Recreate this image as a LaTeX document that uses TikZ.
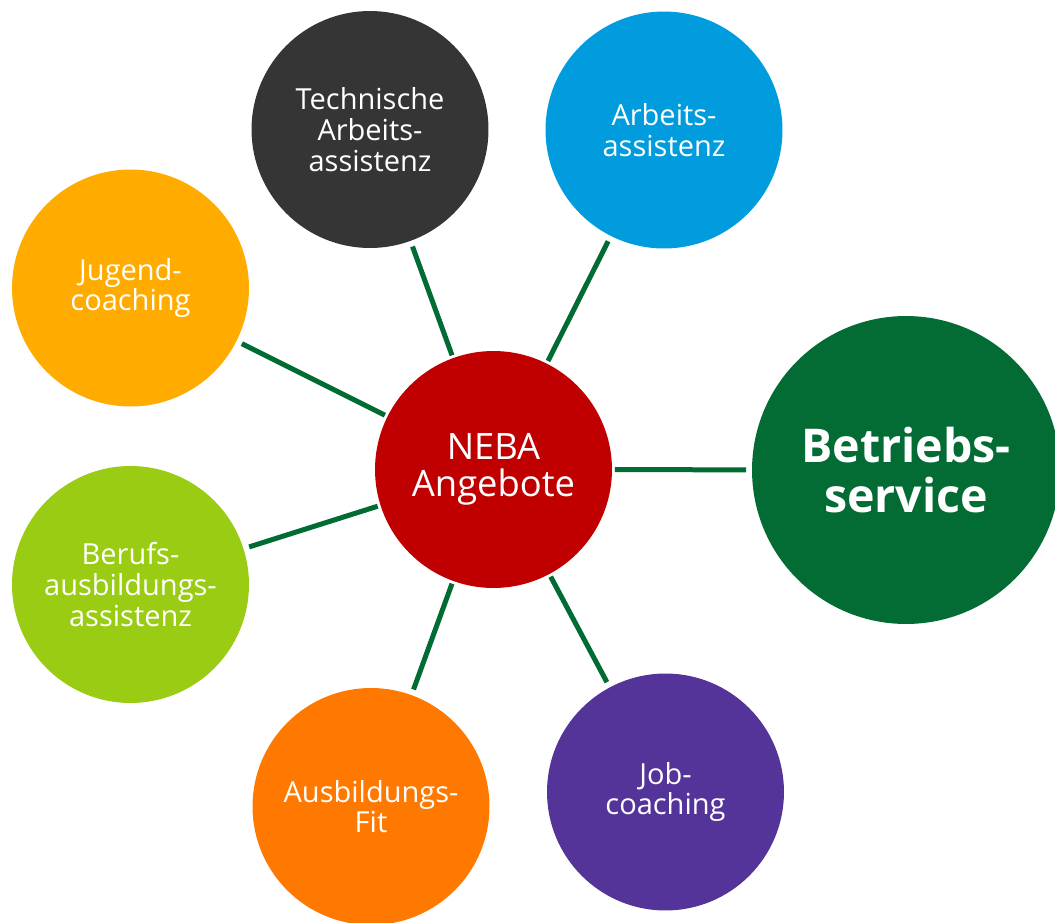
\documentclass[tikz,border=0pt]{standalone}
\usepackage{fontspec}
\setmainfont{Open Sans}
\usepackage{tikz}
\definecolor{nebared}{RGB}{192,0,0}
\definecolor{techgray}{RGB}{53,53,53}
\definecolor{arbblue}{RGB}{0,156,222}
\definecolor{jugamber}{RGB}{255,171,0}
\definecolor{betrgreen}{RGB}{3,107,52}
\definecolor{beruflime}{RGB}{153,204,18}
\definecolor{fitorange}{RGB}{255,120,0}
\definecolor{jobpurple}{RGB}{85,52,153}
\definecolor{linkgreen}{RGB}{0,107,51}

\begin{document}
\begin{tikzpicture}
		[x=0.02cm,y=-0.02cm,every node/.style={circle,inner sep=0pt,outer sep=0pt,minimum size=4.74cm,text=white,align=center,font=\fontsize{16.5}{17.5}\selectfont},
		link/.style={draw=linkgreen,line width=0.1cm,shorten <=0.06cm,shorten >=0.12cm}]
		\path[use as bounding box,clip] (0,0) rectangle (1055,923);
		\node[fill=nebared,font=\fontsize{20.7}{21.4}\selectfont] (neba) at (493.5,469.5) {NEBA\\Angebote};
		\node[fill=techgray]  (tech)  at (370,129.5)   {Technische\\Arbeits-\\assistenz};
		\node[fill=arbblue]   (arb)   at (664,130)     {Arbeits-\\assistenz};
		\node[fill=jugamber]  (jug)   at (130.5,288)   {Jugend-\\coaching};
		\node[fill=betrgreen,minimum size=6.16cm,font=\bfseries\fontsize{26.5}{28.5}\selectfont] (betr) at (906,470) {Betriebs-\\service};
		\node[fill=beruflime] (beruf) at (130.5,584.5) {Berufs-\\ausbildungs-\\assistenz};
		\node[fill=fitorange] (fit)   at (371,806.5)   {Ausbildungs-\\Fit};
		\node[fill=jobpurple] (job)   at (665.5,792)   {Job-\\coaching};
		
		\foreach \to in {tech,arb,betr,job,fit,beruf,jug}
		\draw[link] (neba) -- (\to);
		\end{tikzpicture}
\end{document}
